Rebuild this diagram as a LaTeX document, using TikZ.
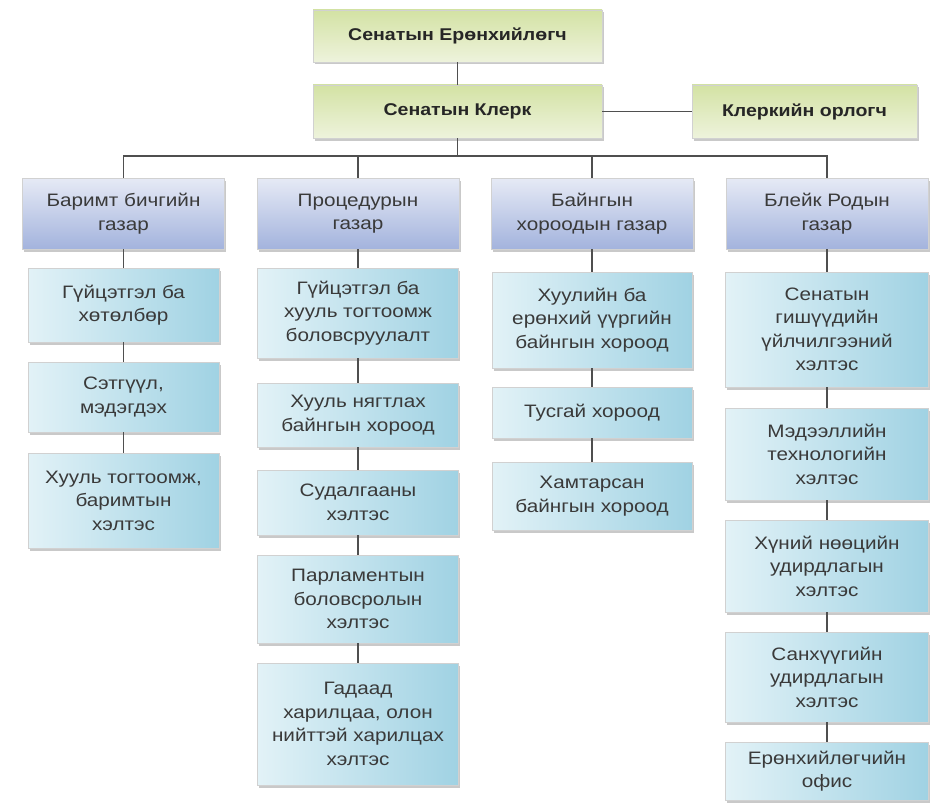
\documentclass[tikz,border=0pt]{standalone}
\usepackage{fontspec}
\setmainfont{Liberation Sans}[FakeStretch=1.15]
\usetikzlibrary{shadows}

\definecolor{linegray}{HTML}{4F4F4F}
\definecolor{greentop}{HTML}{D3E2A4}
\definecolor{greenbot}{HTML}{EEF3DC}
\definecolor{bluetop}{HTML}{E6EAF5}
\definecolor{bluebot}{HTML}{A3B3DD}
\definecolor{cyanleft}{HTML}{E2F2F7}
\definecolor{cyanright}{HTML}{A0D2E3}
\definecolor{textgray}{HTML}{3A3A3A}

\begin{document}
\begin{tikzpicture}[x=1pt,y=-1pt,
    conn/.style={draw=linegray,line width=1.3pt},
    box/.style={rectangle,inner sep=0pt,align=center,draw=black!18,line width=0.4pt,
        drop shadow={shadow xshift=1.5pt,shadow yshift=-2.5pt,opacity=0.35,fill=black!60},
        font=\fontsize{18}{23.5}\selectfont,text=textgray},
    headbox/.style={box,top color=greentop,bottom color=greenbot,text=black!85,
        font=\fontsize{17}{22}\selectfont\bfseries},
    officebox/.style={box,top color=bluetop,bottom color=bluebot,minimum width=202pt,minimum height=71pt},
    unitbox/.style={box,left color=cyanleft,right color=cyanright}]

    \fill[white] (0,0) rectangle (940,808);
    \useasboundingbox (0,0) rectangle (940,808);

    \node[headbox,minimum width=289pt,minimum height=52pt] (pres) at (457.5,36) {Сенатын Ерөнхийлөгч};
    \node[headbox,minimum width=289pt,minimum height=53pt] (clerk) at (457.5,111.5) {Сенатын Клерк};
    \node[headbox,minimum width=225pt,minimum height=53pt] (deputy) at (804.5,111.5) {Клеркийн орлогч};

    \node[officebox] (docs) at (123.5,213.5) {Баримт бичгийн\\газар};
    \node[officebox] (proc) at (358,213.5) {Процедурын\\газар};
    \node[officebox] (comm) at (592,213.5) {Байнгын\\хороодын газар};
    \node[officebox] (black) at (827,213.5) {Блейк Родын\\газар};

    \node[unitbox,minimum width=191pt,minimum height=74pt] (docsA) at (123.5,305) {Гүйцэтгэл ба\\хөтөлбөр};
    \node[unitbox,minimum width=191pt,minimum height=70pt] (docsB) at (123.5,397) {Сэтгүүл,\\мэдэгдэх};
    \node[unitbox,minimum width=191pt,minimum height=95pt] (docsC) at (123.5,500.5) {Хууль тогтоомж,\\баримтын\\хэлтэс};

    \node[unitbox,minimum width=201pt,minimum height=90pt] (procA) at (358,313) {Гүйцэтгэл ба\\хууль тогтоомж\\боловсруулалт};
    \node[unitbox,minimum width=201pt,minimum height=64pt] (procB) at (358,415) {Хууль нягтлах\\байнгын хороод};
    \node[unitbox,minimum width=201pt,minimum height=65pt] (procC) at (358,502.5) {Судалгааны\\хэлтэс};
    \node[unitbox,minimum width=201pt,minimum height=88pt] (procD) at (358,599) {Парламентын\\боловсролын\\хэлтэс};
    \node[unitbox,minimum width=201pt,minimum height=122pt] (procE) at (358,724) {Гадаад\\харилцаа, олон\\нийттэй харилцах\\хэлтэс};

    \node[unitbox,minimum width=200pt,minimum height=96pt] (commA) at (592,320) {Хуулийн ба\\ерөнхий үүргийн\\байнгын хороод};
    \node[unitbox,minimum width=200pt,minimum height=51pt] (commB) at (592,412.5) {Тусгай хороод};
    \node[unitbox,minimum width=200pt,minimum height=68pt] (commC) at (592,496) {Хамтарсан\\байнгын хороод};

    \node[unitbox,minimum width=203pt,minimum height=115pt] (blackA) at (827,329.5) {Сенатын\\гишүүдийн\\үйлчилгээний\\хэлтэс};
    \node[unitbox,minimum width=203pt,minimum height=92pt] (blackB) at (827,454) {Мэдээллийн\\технологийн\\хэлтэс};
    \node[unitbox,minimum width=203pt,minimum height=92pt] (blackC) at (827,566) {Хүний нөөцийн\\удирдлагын\\хэлтэс};
    \node[unitbox,minimum width=203pt,minimum height=90pt] (blackD) at (827,677) {Санхүүгийн\\удирдлагын\\хэлтэс};
    \node[unitbox,minimum width=203pt,minimum height=58pt] (blackE) at (827,771) {Ерөнхийлөгчийн\\офис};

    \coordinate (bus) at (457.5,156);

    \draw[conn] (pres) -- (clerk);
    \draw[conn] (clerk) -- (deputy);
    \draw[conn] (clerk) -- (bus);
    \draw[conn] (docs.north) |- (bus);
    \draw[conn] (black.north) |- (bus);
    \draw[conn] (proc.north) -- (proc.north |- bus);
    \draw[conn] (comm.north) -- (comm.north |- bus);

    \draw[conn] (docs) -- (docsA) (docsA) -- (docsB) (docsB) -- (docsC);
    \draw[conn] (proc) -- (procA) (procA) -- (procB) (procB) -- (procC) (procC) -- (procD) (procD) -- (procE);
    \draw[conn] (comm) -- (commA) (commA) -- (commB) (commB) -- (commC);
    \draw[conn] (black) -- (blackA) (blackA) -- (blackB) (blackB) -- (blackC) (blackC) -- (blackD) (blackD) -- (blackE);

\end{tikzpicture}
\end{document}
